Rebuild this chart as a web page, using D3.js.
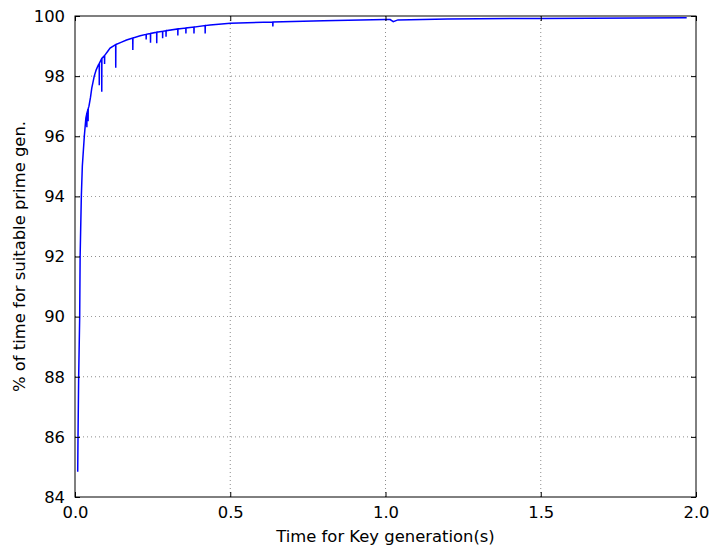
<!DOCTYPE html>
<html>
<head>
<meta charset="utf-8">
<script src="https://cdn.jsdelivr.net/npm/d3@7"></script>
<style>
  html, body { margin: 0; padding: 0; background: #fff; }
  svg { display: block; }
  text { font-family: "DejaVu Sans", sans-serif; fill: #000; }
</style>
</head>
<body>
<svg id="chart" width="710" height="550"></svg>
<script>
// ---- data ----
const timeS = [
  0.0087, 0.0097, 0.0118, 0.0151, 0.0165, 0.0204, 0.0236, 0.0300, 0.0350,
  0.0380, 0.0382, 0.0386, 0.0420, 0.0422, 0.0426, 0.0450, 0.0500, 0.0540,
  0.0580, 0.0620, 0.0680, 0.0750, 0.0780, 0.0782, 0.0786, 0.0860, 0.0862,
  0.0866, 0.0950, 0.0952, 0.0956, 0.1050, 0.1130, 0.1310, 0.1312, 0.1316,
  0.1500, 0.1660, 0.1860, 0.1862, 0.1866, 0.2100, 0.2290, 0.2292, 0.2296,
  0.2430, 0.2432, 0.2436, 0.2630, 0.2632, 0.2636, 0.2820, 0.2822, 0.2826,
  0.2930, 0.2932, 0.2936, 0.3310, 0.3312, 0.3316, 0.3570, 0.3572, 0.3576,
  0.3830, 0.3832, 0.3836, 0.4190, 0.4192, 0.4196, 0.4350, 0.5000, 0.6370,
  0.6372, 0.6376, 0.8000, 1.0000, 1.0150, 1.0250, 1.0400, 1.2000, 1.5000,
  1.9700
];
const pctTime = [
  84.84, 86.0, 88.0, 90.0, 92.0, 94.0, 95.0, 96.0, 96.6,
  96.75, 96.3, 96.78, 96.9, 96.5, 96.92, 97.0, 97.3, 97.6,
  97.8, 98.0, 98.2, 98.37, 98.42, 97.7, 98.43, 98.58, 97.48,
  98.59, 98.68, 98.4, 98.69, 98.82, 98.93, 99.05, 98.28, 99.05,
  99.13, 99.20, 99.27, 98.87, 99.27, 99.34, 99.39, 99.22, 99.39,
  99.42, 99.11, 99.42, 99.46, 99.09, 99.46, 99.49, 99.26, 99.49,
  99.51, 99.31, 99.51, 99.57, 99.35, 99.57, 99.60, 99.42, 99.60,
  99.63, 99.42, 99.63, 99.68, 99.42, 99.68, 99.70, 99.76, 99.80,
  99.65, 99.80, 99.84, 99.88, 99.88, 99.81, 99.87, 99.90, 99.92,
  99.94
];
const xTicks = [0.0, 0.5, 1.0, 1.5, 2.0];
const yTicks = [84, 86, 88, 90, 92, 94, 96, 98, 100];
const xLabel = "Time for Key generation(s)";
const yLabel = "% of time for suitable prime gen.";

// ---- layout ----
const svg = d3.select("#chart");
const m = { left: 75, top: 16, right: 14, bottom: 53 };
const W = 710 - m.left - m.right;
const H = 550 - m.top - m.bottom;
const g = svg.append("g").attr("transform", `translate(${m.left},${m.top})`);

const x = d3.scaleLinear().domain([0, 2.0]).range([0, W]);
const y = d3.scaleLinear().domain([84, 100]).range([H, 0]);

// grid
g.append("g").selectAll("line").data(xTicks.slice(1, -1)).join("line")
  .attr("x1", d => x(d)).attr("x2", d => x(d)).attr("y1", 0).attr("y2", H)
  .attr("stroke", "#000").attr("stroke-width", 0.6).attr("stroke-dasharray", "1,3").attr("opacity", 0.75);
g.append("g").selectAll("line").data(yTicks.slice(1, -1)).join("line")
  .attr("y1", d => y(d)).attr("y2", d => y(d)).attr("x1", 0).attr("x2", W)
  .attr("stroke", "#000").attr("stroke-width", 0.6).attr("stroke-dasharray", "1,3").attr("opacity", 0.75);

// line
const pts = timeS.map((t, i) => [t, pctTime[i]]);
g.append("path").datum(pts)
  .attr("fill", "none").attr("stroke", "#0000ff").attr("stroke-width", 1.5)
  .attr("stroke-linejoin", "miter")
  .attr("d", d3.line().x(d => x(d[0])).y(d => y(d[1])));

// axes (ticks inside, matplotlib classic style)
const fs = "16.4px";
const xb = g.append("g").attr("transform", `translate(0,${H})`)
  .call(d3.axisBottom(x).tickValues(xTicks).tickFormat(d3.format(".1f")).tickSizeInner(-5).tickSizeOuter(0).tickPadding(9));
const yl = g.append("g")
  .call(d3.axisLeft(y).tickValues(yTicks).tickFormat(d3.format("d")).tickSizeInner(-5).tickSizeOuter(0).tickPadding(10));
const xt = g.append("g")
  .call(d3.axisTop(x).tickValues(xTicks).tickFormat("").tickSizeInner(-5).tickSizeOuter(0));
const yr = g.append("g").attr("transform", `translate(${W},0)`)
  .call(d3.axisRight(y).tickValues(yTicks).tickFormat("").tickSizeInner(-5).tickSizeOuter(0));
[xb, yl, xt, yr].forEach(a => {
  a.select(".domain").remove();
  a.selectAll("text").style("font-size", fs).style("font-family", "DejaVu Sans, sans-serif").attr("fill", "#000");
  a.selectAll("line").attr("stroke", "#000");
});

// frame
g.append("rect").attr("x", 0).attr("y", 0).attr("width", W).attr("height", H)
  .attr("fill", "none").attr("stroke", "#000").attr("stroke-width", 1);

// labels
svg.append("text").attr("x", m.left + W / 2).attr("y", 542)
  .attr("text-anchor", "middle").style("font-size", fs).text(xLabel);
svg.append("text").attr("transform", `translate(25,${m.top + H / 2}) rotate(-90)`)
  .attr("text-anchor", "middle").style("font-size", fs).text(yLabel);
</script>
</body>
</html>
